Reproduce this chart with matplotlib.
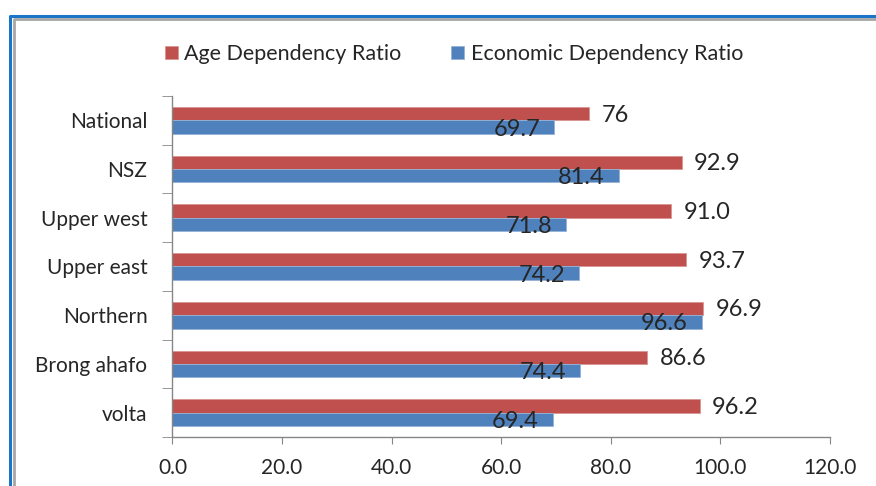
import matplotlib.pyplot as plt
import numpy as np
from matplotlib.lines import Line2D

plt.rcParams['font.family'] = ['Lato', 'DejaVu Sans']

# regions, bottom to top as drawn
regions = ["volta", "Brong ahafo", "Northern", "Upper east", "Upper west", "NSZ", "National"]
age_ratio = [96.2, 86.6, 96.9, 93.7, 91.0, 92.9, 76]
econ_ratio = [69.4, 74.4, 96.6, 74.2, 71.8, 81.4, 69.7]
age_labels = ["96.2", "86.6", "96.9", "93.7", "91.0", "92.9", "76"]
econ_labels = ["69.4", "74.4", "96.6", "74.2", "71.8", "81.4", "69.7"]
xticks = [0, 20, 40, 60, 80, 100, 120]

red = "#C0504D"
blue = "#4F81BD"
txt = "#262626"
axis_gray = "#868686"

fig = plt.figure(figsize=(8.76, 4.86), dpi=100)
ax = fig.add_axes([0.1969, 0.1008, 0.7506, 0.7017])

y = np.arange(len(regions))
h = 0.275
ax.barh(y + h / 2, age_ratio, height=h, color=red, edgecolor="#D99694", linewidth=0.6,
        label="Age Dependency Ratio")
ax.barh(y - h / 2, econ_ratio, height=h, color=blue, edgecolor="#95B3D7", linewidth=0.6,
        label="Economic Dependency Ratio")

# value labels
for yi, v, s in zip(y, age_ratio, age_labels):
    ax.annotate(s, (v, yi + h / 2), xytext=(9, -1), textcoords="offset points",
                ha="left", va="center", fontsize=17, color=txt)
for yi, v, s in zip(y, econ_ratio, econ_labels):
    ax.annotate(s, (v, yi - h / 2), xytext=(-10, -1.5), textcoords="offset points",
                ha="right", va="center", fontsize=17, color=txt)

ax.set_xlim(0, 120)
ax.set_ylim(-0.5, len(regions) - 0.5)
ax.set_xticks(xticks)
ax.set_xticklabels([f"{t:.1f}" for t in xticks])
ax.set_yticks(y)
ax.set_yticklabels(regions)
ax.set_yticks(np.arange(len(regions) + 1) - 0.5, minor=True)

ax.tick_params(axis="x", length=5, color=axis_gray, labelsize=15, labelcolor=txt, pad=10)
ax.tick_params(axis="y", which="major", length=0, labelsize=15, labelcolor=txt, pad=18)
ax.tick_params(axis="y", which="minor", length=7, color=axis_gray)

for side in ["top", "right"]:
    ax.spines[side].set_visible(False)
for side in ["left", "bottom"]:
    ax.spines[side].set_color(axis_gray)
    ax.spines[side].set_linewidth(1)

fig.legend(loc="center", bbox_to_anchor=(454 / 876, 1 - 54 / 486), ncol=2, frameon=False,
           handlelength=0.6, handleheight=0.6, handletextpad=0.3, columnspacing=2.3,
           fontsize=15.5, labelcolor=txt)

# chart frame
W, H = 876, 486
fig.add_artist(Line2D([10 / W, 10 / W, 1], [0, 1 - 16 / H, 1 - 16 / H],
                      transform=fig.transFigure, color="#1A74C8", linewidth=2.2))
fig.add_artist(Line2D([13.5 / W, 13.5 / W, 1], [0, 1 - 19 / H, 1 - 19 / H],
                      transform=fig.transFigure, color="#A6A6A6", linewidth=2.0))

fig.savefig("out.png", dpi=100)
